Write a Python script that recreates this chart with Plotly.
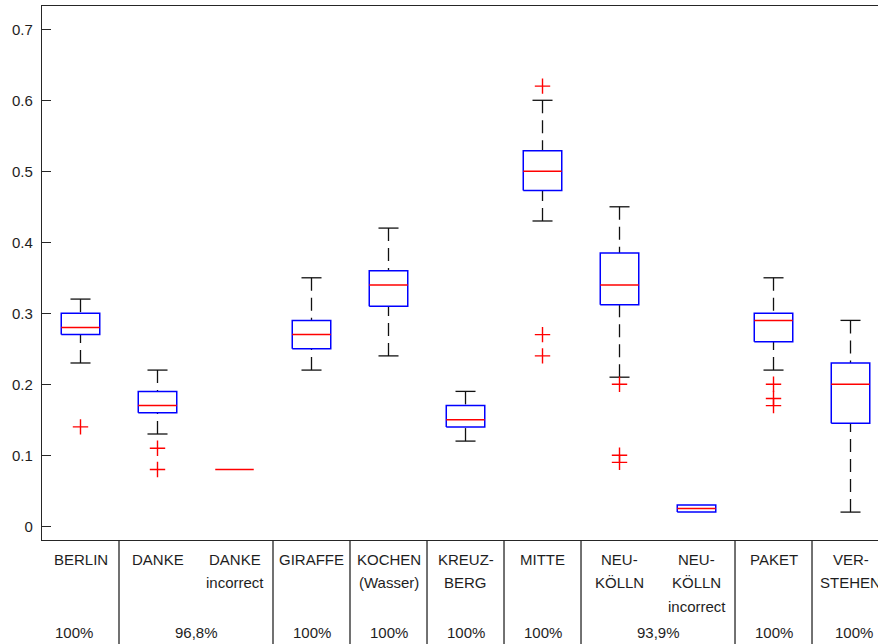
import plotly.graph_objects as go

# ---------------- data ----------------
categories = ["BERLIN", "DANKE", "DANKE incorrect", "GIRAFFE", "KOCHEN (Wasser)",
              "KREUZBERG", "MITTE", "NEUKÖLLN", "NEUKÖLLN incorrect", "PAKET", "VERSTEHEN"]
label_row1 = ["BERLIN", "DANKE", "DANKE", "GIRAFFE", "KOCHEN", "KREUZ-", "MITTE",
              "NEU-", "NEU-", "PAKET", "VER-"]
label_row2 = ["", "", "incorrect", "", "(Wasser)", "BERG", "", "KÖLLN", "KÖLLN", "", "STEHEN"]
label_row3 = ["", "", "", "", "", "", "", "", "incorrect", "", ""]

q1 = [0.27, 0.16, 0.08, 0.25, 0.31, 0.14, 0.473, 0.312, 0.02, 0.26, 0.145]
median = [0.28, 0.17, 0.08, 0.27, 0.34, 0.15, 0.50, 0.34, 0.025, 0.29, 0.20]
q3 = [0.30, 0.19, 0.08, 0.29, 0.36, 0.17, 0.529, 0.385, 0.03, 0.30, 0.23]
whisker_low = [0.23, 0.13, 0.08, 0.22, 0.24, 0.12, 0.43, 0.21, 0.02, 0.22, 0.02]
whisker_high = [0.32, 0.22, 0.08, 0.35, 0.42, 0.19, 0.60, 0.45, 0.03, 0.35, 0.29]
outliers = [[0.14], [0.11, 0.08], [], [], [], [], [0.62, 0.27, 0.24],
            [0.20, 0.10, 0.09], [], [0.20, 0.18, 0.17], []]

group_labels = ["100%", "96,8%", "100%", "100%", "100%", "100%", "93,9%", "100%", "100%"]
group_sizes = [1, 2, 1, 1, 1, 1, 2, 1, 1]

y_ticks = [0, 0.1, 0.2, 0.3, 0.4, 0.5, 0.6, 0.7]

# ---------------- style ----------------
FONT = "Liberation Sans, Arial, Helvetica, sans-serif"
TXT = "#1e1e1e"
AX = "#262626"
BOX_HW = 0.25
CAP_HW = 0.13

pos = list(range(1, len(categories) + 1))

wx, wy, cx, cy, bx, by, mx, my, ox, oy = ([] for _ in range(10))
for i, p in enumerate(pos):
    if whisker_high[i] > q3[i]:
        wx += [p, p, None]
        wy += [whisker_high[i], q3[i], None]
        cx += [p - CAP_HW, p + CAP_HW, None]
        cy += [whisker_high[i], whisker_high[i], None]
    if whisker_low[i] < q1[i]:
        wx += [p, p, None]
        wy += [whisker_low[i], q1[i], None]
        cx += [p - CAP_HW, p + CAP_HW, None]
        cy += [whisker_low[i], whisker_low[i], None]
    if q3[i] > q1[i]:
        bx += [p - BOX_HW, p + BOX_HW, p + BOX_HW, p - BOX_HW, p - BOX_HW, None]
        by += [q1[i], q1[i], q3[i], q3[i], q1[i], None]
    mx += [p - BOX_HW, p + BOX_HW, None]
    my += [median[i], median[i], None]
    for v in outliers[i]:
        ox.append(p)
        oy.append(v)

fig = go.Figure()
fig.add_trace(go.Scatter(x=wx, y=wy, mode="lines",
                         line=dict(color="#111111", width=1.3, dash="13px,7px"),
                         hoverinfo="skip", showlegend=False))
fig.add_trace(go.Scatter(x=cx, y=cy, mode="lines",
                         line=dict(color="#111111", width=1.3),
                         hoverinfo="skip", showlegend=False))
fig.add_trace(go.Scatter(x=bx, y=by, mode="lines",
                         line=dict(color="#0000ff", width=1.5),
                         hoverinfo="skip", showlegend=False))
fig.add_trace(go.Scatter(x=mx, y=my, mode="lines",
                         line=dict(color="#ff0000", width=1.5),
                         hoverinfo="skip", showlegend=False))
fig.add_trace(go.Scatter(x=ox, y=oy, mode="markers",
                         marker=dict(symbol="cross-thin", size=11,
                                     line=dict(color="#ff0000", width=1.4)),
                         hoverinfo="skip", showlegend=False))

annotations = []
row_shift = [-19, -42, -66]
for i, p in enumerate(pos):
    for r, rows in enumerate([label_row1, label_row2, label_row3]):
        if rows[i]:
            annotations.append(dict(x=p, y=0, xref="x", yref="paper", text=rows[i],
                                    showarrow=False, xanchor="center", yanchor="middle",
                                    yshift=row_shift[r],
                                    font=dict(family=FONT, size=15, color=TXT)))

# table cells (separators between groups)
shapes = []
seps = []
acc = 0
for s in group_sizes[:-1]:
    acc += s
    seps.append(acc + 0.5)
cell_left = [0.33] + seps
cell_right = seps + [11.58]
for k, lab in enumerate(group_labels):
    annotations.append(dict(x=(cell_left[k] + cell_right[k]) / 2, y=0, xref="x", yref="paper",
                            text=lab, showarrow=False, xanchor="center", yanchor="middle",
                            yshift=-92,
                            font=dict(family=FONT, size=15, color=TXT)))
for s in seps:
    shapes.append(dict(type="line", xref="x", yref="paper", x0=s, x1=s, y0=0, y1=-0.25,
                       line=dict(color=AX, width=1.3)))

fig.update_layout(
    width=878, height=644,
    margin=dict(l=42, r=0, t=6, b=104, pad=0),
    paper_bgcolor="white", plot_bgcolor="white",
    font=dict(family=FONT, size=15, color=TXT),
    annotations=annotations, shapes=shapes,
    xaxis=dict(range=[0.5, 11.357], showgrid=False, zeroline=False,
               showticklabels=False, ticks="", showline=True, mirror=True,
               linecolor=AX, linewidth=1.3),
    yaxis=dict(range=[-0.0193, 0.7328], showgrid=False, zeroline=False,
               tickvals=y_ticks, ticktext=[("%g" % v) for v in y_ticks],
               ticks="inside", ticklen=9, tickcolor=AX, tickwidth=1.3,
               showline=True, linecolor=AX, linewidth=1.3, mirror=False,
               ticklabelstandoff=5,
               tickfont=dict(family=FONT, size=15, color=TXT)),
)

fig.write_html("out.html",
               config={"displayModeBar": False},
               post_script="document.body.style.margin='0';document.body.style.padding='0';"
                           "document.body.style.overflow='hidden';"
                           "document.documentElement.style.overflow='hidden';")
